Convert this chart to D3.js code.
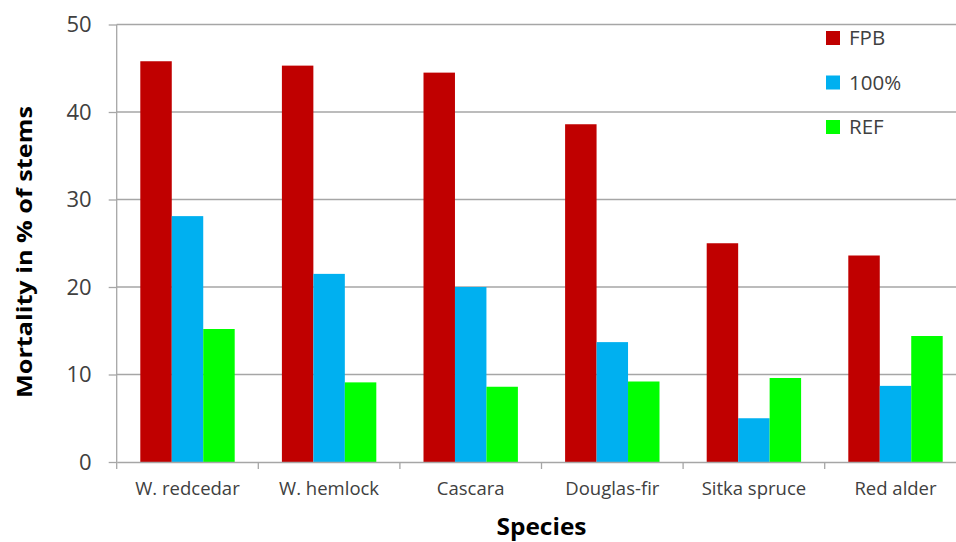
<!DOCTYPE html>
<html><head><meta charset="utf-8">
<script src="https://cdn.jsdelivr.net/npm/d3@7"></script>
<style>body{margin:0;background:#fff}svg{display:block}</style>
</head><body>
<svg id="c" width="956" height="542"></svg>
<script>
const categories = ["W. redcedar","W. hemlock","Cascara","Douglas-fir","Sitka spruce","Red alder"];
const seriesNames = ["FPB","100%","REF"];
const fpb = [45.8,45.3,44.5,38.6,25.0,23.6];
const pct100 = [28.1,21.5,20.0,13.7,5.0,8.7];
const ref = [15.2,9.1,8.6,9.2,9.6,14.4];
const yTicks = [0,10,20,30,40,50];
const colors = ["#C00000","#00B0F0","#00FF00"];
const values = [fpb,pct100,ref];

const svg = d3.select("#c");
const font = "'Open Sans', sans-serif";
const x0 = 116.7, x1 = 116.7 + 6*141.6;
const y = d3.scaleLinear().domain([0,50]).range([462,24.5]);
const x = d3.scaleBand().domain(categories).range([x0,x1]).paddingInner(0).paddingOuter(0);
const xs = d3.scaleBand().domain(seriesNames).range([0,x.bandwidth()]).paddingInner(0).paddingOuter(0.75);

// gridlines
svg.append("g").selectAll("line").data(yTicks.slice(1)).join("line")
  .attr("x1",x0).attr("x2",x1).attr("y1",d=>y(d)).attr("y2",d=>y(d))
  .attr("stroke","#a6a6a6").attr("stroke-width",1.3);

// bars
const g = svg.append("g");
categories.forEach((c,i)=>{
  seriesNames.forEach((s,j)=>{
    g.append("rect").attr("x",x(c)+xs(s)).attr("width",xs.bandwidth())
      .attr("y",y(values[j][i])).attr("height",y(0)-y(values[j][i]))
      .attr("fill",colors[j]);
  });
});

// y axis
const ya = svg.append("g").attr("transform",`translate(${x0},0)`)
  .call(d3.axisLeft(y).tickValues(yTicks).tickSize(8).tickPadding(17).tickFormat(d3.format("d")));
ya.select(".domain").attr("stroke","#a6a6a6").attr("stroke-width",1.3).attr("d",`M-0,${y(50)}V${y(0)}`);
ya.selectAll(".tick line").attr("stroke","#a6a6a6").attr("stroke-width",1.3);
ya.selectAll("text").attr("font-family",font).attr("font-size",22).attr("fill","#404040");

// x axis
const xa = svg.append("g").attr("transform",`translate(0,${y(0)})`)
  .call(d3.axisBottom(x).tickSize(0).tickPadding(20));
xa.select(".domain").attr("stroke","#a6a6a6").attr("stroke-width",1.3);
xa.selectAll("text").attr("font-family",font).attr("font-size",18.5).attr("fill","#404040");
svg.append("g").selectAll("line").data(d3.range(categories.length+1)).join("line")
  .attr("x1",d=>x0+d*x.step()).attr("x2",d=>x0+d*x.step())
  .attr("y1",y(0)).attr("y2",y(0)+7).attr("stroke","#a6a6a6").attr("stroke-width",1.3);

// axis titles
svg.append("text").attr("transform","translate(32,252) rotate(-90)")
  .attr("text-anchor","middle").attr("font-family",font).attr("font-weight","bold")
  .attr("font-size",21.5).attr("textLength",292).attr("lengthAdjust","spacingAndGlyphs")
  .attr("fill","#000").text("Mortality in % of stems");
svg.append("text").attr("x",541.5).attr("y",535).attr("text-anchor","middle")
  .attr("font-family",font).attr("font-weight","bold").attr("font-size",23)
  .attr("textLength",90).attr("lengthAdjust","spacingAndGlyphs")
  .attr("fill","#000").text("Species");

// legend
const lg = svg.append("g");
seriesNames.forEach((s,j)=>{
  const cy = 38 + j*44.5;
  lg.append("rect").attr("x",826).attr("y",cy-7).attr("width",14).attr("height",14).attr("fill",colors[j]);
  lg.append("text").attr("x",849).attr("y",cy).attr("dy","0.36em")
    .attr("font-family",font).attr("font-size",20.5).attr("fill","#404040").text(s);
});
</script>
</body></html>
